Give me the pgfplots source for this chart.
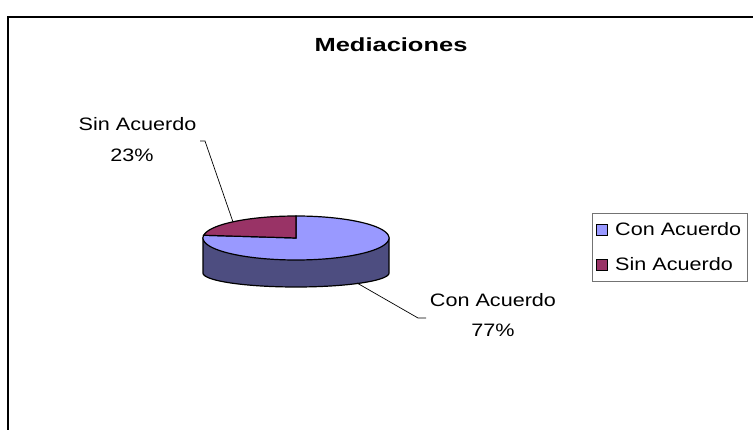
\documentclass[border=0pt]{standalone}
\usepackage{pgfplots}
\pgfplotsset{compat=1.18}
\usepackage{fontspec}
\setmainfont{Liberation Sans}
\definecolor{conA}{HTML}{9999FF}
\definecolor{sinA}{HTML}{993366}
\definecolor{sideA}{RGB}{77,77,128}
% pie geometry (pixel units)
\def\cx{296}\def\cy{238}\def\rx{93}\def\ry{22}
\def\bcy{273}\def\bry{14}
\def\xL{203}\def\xR{389}
% data
\def\valCon{77}\def\valSin{23}
\pgfmathsetmacro{\angEnd}{90+3.6*\valSin}
\newcommand{\lbl}[1]{\scalebox{1.2}[1]{#1}}
\begin{document}
\begin{tikzpicture}
\begin{axis}[
  width=753pt, height=430pt, scale only axis,
  xmin=0, xmax=753, ymin=0, ymax=430, y dir=reverse,
  hide axis, clip=false,
  legend style={at={(axis description cs:0.7862,0.5047)}, anchor=north west,
    draw=black!55, line width=0.8pt, fill=white,
    font=\fontsize{18}{22}\selectfont,
    inner xsep=4pt, inner ysep=7pt, row sep=17pt},
  legend cell align=left,
  legend image code/.code={\draw[#1, draw=black, line width=0.8pt] (0pt,-5.5pt) rectangle (11pt,5.5pt);},
]
% frame
\draw[line width=2pt] (axis cs:7.5,430) -- (axis cs:7.5,17.5) -- (axis cs:753,17.5);
% side of the pie
\addplot[forget plot, fill=sideA, draw=black, line width=1.2pt, domain=180:360, samples=90, variable=\t]
  ({\cx+\rx*cos(\t)},{\bcy-\bry*sin(\t)}) -- (axis cs:\xR,\cy) -- (axis cs:\xL,\cy) -- cycle;
% top faces
\addplot[fill=conA, draw=black, line width=1.2pt, domain=\angEnd:450, samples=140, variable=\t]
  ({\cx+\rx*cos(\t)},{\cy-\ry*sin(\t)}) -- (axis cs:\cx,\cy) -- cycle;
\addlegendentry{\hspace{5pt}\lbl{Con Acuerdo}}
\addplot[fill=sinA, draw=black, line width=1.2pt, domain=90:\angEnd, samples=40, variable=\t]
  ({\cx+\rx*cos(\t)},{\cy-\ry*sin(\t)}) -- (axis cs:\cx,\cy) -- cycle;
\addlegendentry{\hspace{5pt}\lbl{Sin Acuerdo}}
% leader lines
\draw[line width=0.7pt] (axis cs:200,141) -- (axis cs:205,141) -- (axis cs:233,222);
\draw[line width=0.7pt] (axis cs:357,283) -- (axis cs:418,318) -- (axis cs:426,318);
% labels
\node[font=\fontsize{19}{22}\selectfont\bfseries] at (axis cs:391,45) {\scalebox{1.34}[1]{Mediaciones}};
\node[font=\fontsize{18}{22}\selectfont] at (axis cs:137.5,124) {\lbl{Sin Acuerdo}};
\node[font=\fontsize{18}{22}\selectfont] at (axis cs:132,155) {\lbl{23\%}};
\node[font=\fontsize{18}{22}\selectfont] at (axis cs:493,300) {\lbl{Con Acuerdo}};
\node[font=\fontsize{18}{22}\selectfont] at (axis cs:493,330) {\lbl{77\%}};
\end{axis}
\pgfresetboundingbox
\path[use as bounding box] (current axis.south west) rectangle (current axis.north east);
\end{tikzpicture}
\end{document}
